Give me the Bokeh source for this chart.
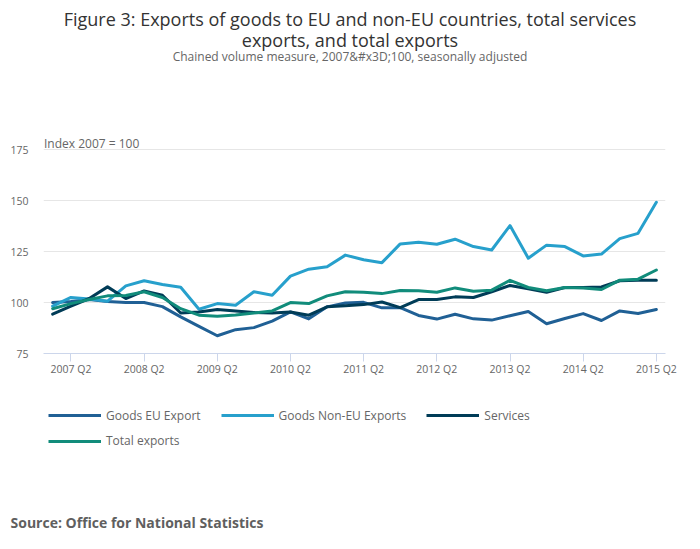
from bokeh.plotting import figure
from bokeh.models import Label, Legend, LegendItem, FixedTicker, Range1d
from bokeh.layouts import column
from bokeh.embed import file_html
from bokeh.resources import INLINE

quarters = [
    "2007 Q1", "2007 Q2", "2007 Q3", "2007 Q4",
    "2008 Q1", "2008 Q2", "2008 Q3", "2008 Q4",
    "2009 Q1", "2009 Q2", "2009 Q3", "2009 Q4",
    "2010 Q1", "2010 Q2", "2010 Q3", "2010 Q4",
    "2011 Q1", "2011 Q2", "2011 Q3", "2011 Q4",
    "2012 Q1", "2012 Q2", "2012 Q3", "2012 Q4",
    "2013 Q1", "2013 Q2", "2013 Q3", "2013 Q4",
    "2014 Q1", "2014 Q2", "2014 Q3", "2014 Q4",
    "2015 Q1", "2015 Q2",
]
goods_eu = [100.0, 100.5, 101.5, 100.5, 100.0, 100.0, 98.0, 93.0, 88.3, 83.7,
            86.7, 87.7, 90.9, 95.4, 92.0, 97.9, 99.8, 100.1, 97.4, 97.5,
            93.7, 91.9, 94.3, 92.0, 91.4, 93.5, 95.6, 89.6, 92.2, 94.6,
            91.2, 95.9, 94.6, 96.6]
goods_non_eu = [98.3, 102.5, 101.8, 100.7, 108.2, 110.7, 108.9, 107.5, 96.7, 99.5,
                98.7, 105.3, 103.6, 113.0, 116.4, 117.6, 123.3, 121.0, 119.6, 128.8,
                129.6, 128.6, 131.1, 127.5, 125.8, 137.8, 121.8, 128.2, 127.5, 122.9,
                123.8, 131.4, 134.0, 149.2]
services = [94.3, 98.2, 102.0, 107.7, 102.0, 105.7, 103.6, 94.9, 95.4, 96.6,
            95.9, 95.1, 94.9, 95.4, 93.8, 97.9, 98.4, 99.0, 100.3, 97.5,
            101.5, 101.5, 102.8, 102.5, 105.3, 108.4, 106.8, 105.1, 107.4, 107.4,
            107.7, 110.7, 111.0, 111.0]
total_exports = [97.0, 99.5, 101.5, 103.3, 103.5, 105.3, 102.5, 97.0, 93.8, 93.3,
                 93.9, 94.9, 95.9, 100.0, 99.5, 103.3, 105.3, 105.1, 104.4, 105.9,
                 105.8, 105.1, 107.2, 105.6, 106.1, 110.9, 107.4, 105.8, 107.4, 107.2,
                 106.4, 111.0, 111.5, 116.0]
series_names = ["Goods EU Export", "Goods Non-EU Exports", "Services", "Total exports"]
series_colors = ["#206095", "#27a0cc", "#003c57", "#118c7b"]
y_ticks = [75, 100, 125, 150, 175]

title_lines = ["Figure 3: Exports of goods to EU and non-EU countries, total services",
               "exports, and total exports"]
subtitle = "Chained volume measure, 2007&#x3D;100, seasonally adjusted"
y_unit = "Index 2007 = 100"
source = "Source: Office for National Statistics"

FONT = "Open Sans"
W = 700
CHART_H = 380
FOOT_H = 549 - CHART_H
FRAME_BOTTOM = 353            # pixel row of the x axis
PX_PER_UNIT = 2.037           # vertical scale of the value axis
Y_MIN = 75
Y_TOP = Y_MIN + FRAME_BOTTOM / PX_PER_UNIT   # plot frame reaches the canvas top

series = [goods_eu, goods_non_eu, services, total_exports]

# ---------------- chart ----------------
x = list(range(len(quarters)))
p = figure(width=W, height=CHART_H, output_backend="svg", toolbar_location=None,
           x_range=Range1d(-0.5, len(quarters) - 0.5),
           y_range=Range1d(Y_MIN, Y_TOP),
           min_border_left=43, min_border_right=35, min_border_top=0,
           min_border_bottom=CHART_H - FRAME_BOTTOM, title_location=None,
           background_fill_color="white", border_fill_color="white",
           frame_align=False)
p.outline_line_color = None

p.xaxis.ticker = FixedTicker(ticks=[i for i, q in enumerate(quarters) if q.endswith("Q2")])
p.xaxis.major_label_overrides = {i: q for i, q in enumerate(quarters)}
p.xaxis.axis_line_color = "#ccd6eb"
p.xaxis.major_tick_line_color = "#ccd6eb"
p.xaxis.major_tick_in = 0
p.xaxis.major_tick_out = 8
p.xaxis.minor_tick_line_color = None
p.xaxis.major_label_standoff = 0
p.xaxis.major_label_text_font = FONT
p.xaxis.major_label_text_font_size = "10.5px"
p.xaxis.major_label_text_color = "#666666"

p.yaxis.ticker = FixedTicker(ticks=y_ticks)
p.yaxis.axis_line_color = None
p.yaxis.major_tick_line_color = None
p.yaxis.minor_tick_line_color = None
p.yaxis.major_tick_out = 0
p.yaxis.major_tick_in = 0
p.yaxis.major_label_standoff = 15
p.yaxis.major_label_text_font = FONT
p.yaxis.major_label_text_font_size = "10.5px"
p.yaxis.major_label_text_color = "#666666"

p.xgrid.grid_line_color = None
p.ygrid.grid_line_color = "#e6e6e6"
p.ygrid.ticker = FixedTicker(ticks=y_ticks)

for vals, col in zip(series, series_colors):
    p.line(x, vals, line_color=col, line_width=3, line_join="round", line_cap="round")


def canvas_label(fig, text, cx, cy, size, color, align, style="normal"):
    fig.add_layout(Label(x=cx, y=cy, x_units="canvas", y_units="canvas", text=text,
                         text_font=FONT, text_font_size=size, text_color=color,
                         text_align=align, text_baseline="alphabetic",
                         text_font_style=style))


canvas_label(p, title_lines[0], 349.5, 18.5, "18px", "#333333", "center")
canvas_label(p, title_lines[1], 349.5, 39.5, "18px", "#333333", "center")
canvas_label(p, subtitle, 349.5, 56.0, "12px", "#666666", "center")
canvas_label(p, y_unit, 43.5, 142.5, "12px", "#666666", "left")

# ---------------- footer: legend + source ----------------
# the series are re-plotted here only as legend keys; the footer's ranges
# keep these lines out of view, so only their legend swatches show.
foot = figure(width=W, height=FOOT_H, output_backend="svg", toolbar_location=None,
              x_range=Range1d(0, 1), y_range=Range1d(0, 1),
              x_axis_type=None, y_axis_type=None, min_border=0,
              title_location=None, frame_align=False)
foot.grid.visible = False
foot.outline_line_color = None

keys = [foot.line(x, vals, line_color=col, line_width=3)
        for vals, col in zip(series, series_colors)]

leg_kw = dict(orientation="horizontal", spacing=20, padding=0, margin=0,
              glyph_width=53, glyph_height=16, label_height=16, label_standoff=5,
              border_line_color=None, background_fill_alpha=0,
              label_text_font=FONT, label_text_font_size="12px",
              label_text_color="#666666")
row1_mid = 415.7 - CHART_H
row2_mid = 441.3 - CHART_H
foot.add_layout(Legend(items=[LegendItem(label=n, renderers=[r])
                              for n, r in zip(series_names[:3], keys[:3])],
                       location=(48, FOOT_H - row1_mid - 8), **leg_kw))
foot.add_layout(Legend(items=[LegendItem(label=series_names[3], renderers=[keys[3]])],
                       location=(48, FOOT_H - row2_mid - 8), **leg_kw))

canvas_label(foot, source, 10, 521.7 - CHART_H, "14px", "#5f5f5f", "left", "bold")

layout = column(p, foot, spacing=0)
open("out.html", "w").write(file_html(layout, INLINE))
